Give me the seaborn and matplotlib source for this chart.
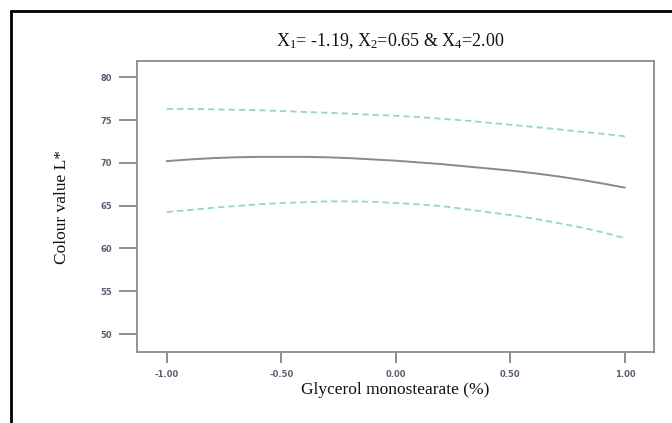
import numpy as np
import pandas as pd
import matplotlib
matplotlib.use("Agg")
import matplotlib.pyplot as plt
import seaborn as sns
from matplotlib.lines import Line2D

# ---- data ----
gms = [-1.0, -0.9, -0.8, -0.7, -0.6, -0.5, -0.4, -0.3, -0.2, -0.1, 0.0,
       0.1, 0.2, 0.3, 0.4, 0.5, 0.6, 0.7, 0.8, 0.9, 1.0]
fit = [70.2, 70.4, 70.55, 70.65, 70.7, 70.7, 70.7, 70.65, 70.55, 70.4, 70.25,
       70.05, 69.85, 69.6, 69.35, 69.1, 68.8, 68.45, 68.05, 67.6, 67.1]
upper = [76.3, 76.3, 76.25, 76.2, 76.15, 76.05, 75.95, 75.85, 75.75, 75.6, 75.5,
         75.35, 75.15, 74.95, 74.7, 74.45, 74.2, 73.95, 73.65, 73.4, 73.1]
lower = [64.25, 64.5, 64.75, 64.95, 65.15, 65.3, 65.4, 65.5, 65.5, 65.45, 65.3,
         65.15, 64.95, 64.6, 64.25, 63.9, 63.5, 63.0, 62.5, 61.9, 61.2]
yticks = [50, 55, 60, 65, 70, 75, 80]
xticks = [-1.0, -0.5, 0.0, 0.5, 1.0]
xticklabels = ["-1.00", "-0.50", "0.00", "0.50", "1.00"]

sns.set_style("white")
plt.rcParams["mathtext.fontset"] = "custom"
plt.rcParams["mathtext.rm"] = "Liberation Serif"
plt.rcParams["mathtext.it"] = "Liberation Serif:italic"

df = pd.DataFrame({"x": gms, "fit": fit, "upper": upper, "lower": lower})

fig = plt.figure(figsize=(6.72, 4.23), dpi=100)
ax = fig.add_axes([137/672, 1 - 352/423, (654 - 137)/672, (352 - 61)/423])

teal = "#96d3d3"
sns.lineplot(data=df, x="x", y="fit", ax=ax, color="#8a8a8a", lw=1.4)
sns.lineplot(data=df, x="x", y="upper", ax=ax, color=teal, lw=1.3,
             linestyle=(0, (3.5, 2.2)))
sns.lineplot(data=df, x="x", y="lower", ax=ax, color=teal, lw=1.3,
             linestyle=(0, (3.5, 2.2)))

ax.set_xlim(-1.13, 1.127)
ax.set_ylim(47.9, 81.9)
ax.set_xticks(xticks)
ax.set_xticklabels(xticklabels)
ax.set_yticks(yticks)
ax.set_yticklabels([str(v) for v in yticks])

for s in ax.spines.values():
    s.set_color("#8c8c8c")
    s.set_linewidth(1.3)
ax.tick_params(axis="y", length=13, width=1.2, color="#7a7a7a", pad=5,
               labelsize=6, labelcolor="#5c5c72", direction="out", left=True)
ax.tick_params(axis="x", length=8, width=1.2, color="#7a7a7a", pad=5,
               labelsize=6, labelcolor="#5c5c72", direction="out", bottom=True)
for lab in ax.get_xticklabels() + ax.get_yticklabels():
    lab.set_family("DejaVu Sans")
    lab.set_fontweight("bold")

ax.set_xlabel("")
ax.set_ylabel("")

fig.text(395/672, 1 - 390/423, "Glycerol monostearate (%)", family="Liberation Serif",
         fontsize=12.5, ha="center", va="center", color="#111111")
fig.text(62/672, 1 - 207/423, "Colour value L*", family="Liberation Serif",
         fontsize=12.5, ha="center", va="center", rotation=90, color="#111111")
fig.text(390/672, 1 - 41/423,
         r"$\mathrm{X_1}$= -1.19, $\mathrm{X_2}$=0.65 & $\mathrm{X_4}$=2.00",
         family="Liberation Serif", fontsize=13, ha="center", va="center",
         color="#111111")

# outer frame (top and left edges visible)
fig.add_artist(Line2D([11/672, 11/672], [0, 1 - 11/423], transform=fig.transFigure,
                      color="black", lw=2))
fig.add_artist(Line2D([11/672, 1], [1 - 11/423, 1 - 11/423], transform=fig.transFigure,
                      color="black", lw=2))

fig.savefig("out.png", dpi=100)
